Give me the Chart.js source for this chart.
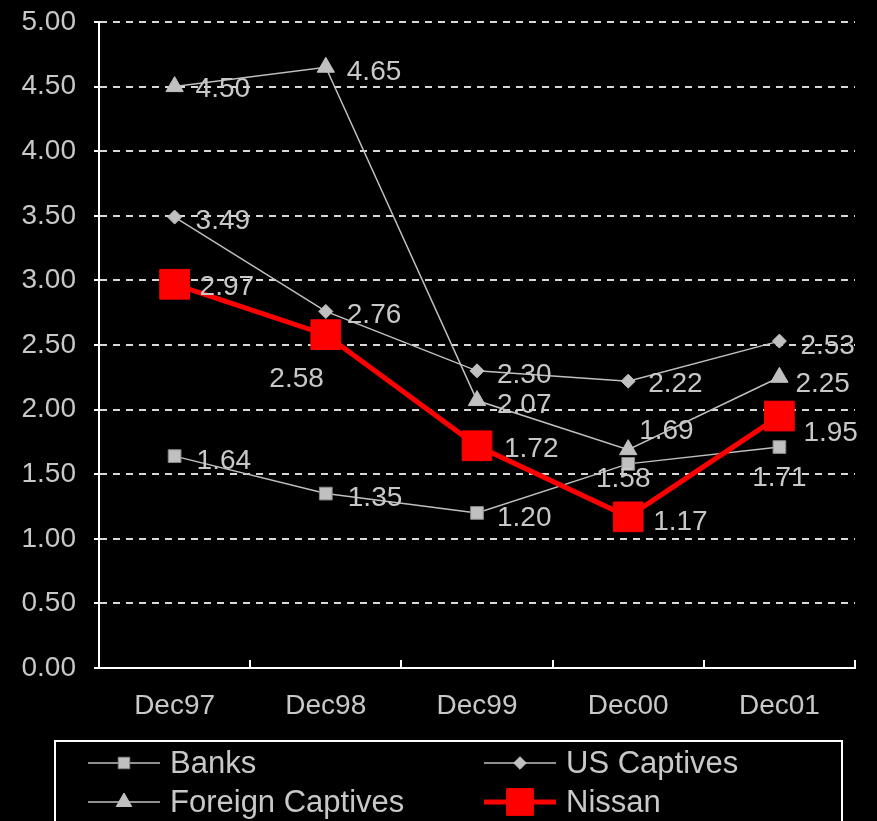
<!DOCTYPE html>
<html>
<head>
<meta charset="utf-8">
<script src="https://cdn.jsdelivr.net/npm/chart.js@4/dist/chart.umd.min.js"></script>
<style>
  html, body { margin: 0; padding: 0; background: #000; }
  #wrap { width: 877px; height: 821px; position: relative; }
</style>
</head>
<body>
<div id="wrap"><canvas id="rateChart"></canvas></div>
<script>
// values
const categories = ["Dec97", "Dec98", "Dec99", "Dec00", "Dec01"];
const banks = [1.64, 1.35, 1.20, 1.58, 1.71];
const usCaptives = [3.49, 2.76, 2.30, 2.22, 2.53];
const foreignCaptives = [4.50, 4.65, 2.07, 1.69, 2.25];
const nissan = [2.97, 2.58, 1.72, 1.17, 1.95];

const grey = "#c0c0c0";
const textGrey = "#c8c8c8";
const font = "Liberation Sans, Arial, sans-serif";

// where each value label sits relative to its point: [dx, dy, align]
const labelSpots = [
  [[22, 5, "left"], [22, 5, "left"], [20, 5, "left"], [-5, 15, "center"], [0, 31, "center"]],
  [[21, 4, "left"], [21, 4, "left"], [20, 4, "left"], [20, 3, "left"], [21, 5, "left"]],
  [[21, 3, "left"], [21, 5, "left"], [20, 5, "left"], [11, -18, "left"], [16, 7, "left"]],
  [[25, 3, "left"], [-2, 45, "right"], [27, 4, "left"], [25, 5, "left"], [24, 17, "left"]]
];

const valueLabels = {
  id: "valueLabels",
  afterDatasetsDraw(chart) {
    const ctx = chart.ctx;
    ctx.save();
    ctx.font = "28px " + font;
    ctx.fillStyle = textGrey;
    ctx.textBaseline = "middle";
    chart.data.datasets.forEach((ds, i) => {
      const meta = chart.getDatasetMeta(i);
      meta.data.forEach((pt, j) => {
        const spot = labelSpots[i][j];
        ctx.textAlign = spot[2];
        ctx.fillText(ds.data[j].toFixed(2), pt.x + spot[0], pt.y + spot[1]);
      });
    });
    ctx.restore();
  }
};

// small tick marks pointing up into the plot between the categories
const innerTicks = {
  id: "innerTicks",
  afterDraw(chart) {
    const x = chart.scales.x;
    const ctx = chart.ctx;
    const step = (x.right - x.left) / categories.length;
    ctx.save();
    ctx.strokeStyle = "#ffffff";
    ctx.lineWidth = 2;
    ctx.beginPath();
    for (let k = 1; k <= categories.length; k++) {
      const xx = Math.round(x.left + k * step);
      ctx.moveTo(xx, x.top - 8);
      ctx.lineTo(xx, x.top);
    }
    ctx.stroke();
    ctx.restore();
  }
};

// boxed two column legend at the bottom
const boxLegend = {
  id: "boxLegend",
  afterDraw(chart) {
    const ctx = chart.ctx;
    const slots = [[88, 763], [484, 763], [88, 802], [484, 802]];
    ctx.save();
    ctx.strokeStyle = "#ffffff";
    ctx.lineWidth = 2;
    ctx.strokeRect(55, 741, 787, 100);
    chart.data.datasets.forEach((ds, i) => {
      const [lx, ly] = slots[i];
      ctx.strokeStyle = ds.borderColor;
      ctx.lineWidth = ds.borderWidth;
      ctx.beginPath();
      ctx.moveTo(lx, ly);
      ctx.lineTo(lx + 72, ly);
      ctx.stroke();
      ctx.fillStyle = ds.pointBackgroundColor;
      ctx.strokeStyle = ds.pointBorderColor;
      ctx.lineWidth = 1;
      Chart.helpers.drawPoint(ctx, {
        pointStyle: ds.pointStyle,
        radius: ds.pointRadius * 0.9,
        rotation: 0,
        borderWidth: 1
      }, lx + 36, ly);
      ctx.fillStyle = textGrey;
      ctx.font = "31px " + font;
      ctx.textAlign = "left";
      ctx.textBaseline = "middle";
      ctx.fillText(ds.label, lx + 82, ly + 1);
    });
    ctx.restore();
  }
};

const ctx = document.getElementById("rateChart");

new Chart(ctx, {
  type: "line",
  plugins: [valueLabels, innerTicks, boxLegend],
  data: {
    labels: categories,
    datasets: [{
      label: "Banks",
      data: banks,
      borderColor: grey,
      borderWidth: 1.5,
      pointStyle: "rect",
      pointRadius: 9,
      pointBackgroundColor: grey,
      pointBorderColor: "#8a8a8a",
      pointBorderWidth: 1,
      order: 1
    }, {
      label: "US Captives",
      data: usCaptives,
      borderColor: grey,
      borderWidth: 1.5,
      pointStyle: "rectRot",
      pointRadius: 7,
      pointBackgroundColor: grey,
      pointBorderColor: grey,
      pointBorderWidth: 1,
      order: 1
    }, {
      label: "Foreign Captives",
      data: foreignCaptives,
      borderColor: grey,
      borderWidth: 1.5,
      pointStyle: "triangle",
      pointRadius: 10,
      pointBackgroundColor: grey,
      pointBorderColor: grey,
      pointBorderWidth: 1,
      order: 1
    }, {
      label: "Nissan",
      data: nissan,
      borderColor: "#ff0000",
      borderWidth: 5,
      pointStyle: "rect",
      pointRadius: 21,
      pointBackgroundColor: "#ff0000",
      pointBorderColor: "#ff0000",
      pointBorderWidth: 1,
      order: 0
    }]
  },
  options: {
    responsive: true,
    maintainAspectRatio: false,
    animation: false,
    layout: {
      padding: { top: 16, right: 18, bottom: 0, left: 0 }
    },
    plugins: {
      legend: { display: false },
      tooltip: { enabled: false }
    },
    scales: {
      x: {
        offset: true,
        afterFit: (scale) => {
          scale.height = 821 - 668;
          scale.paddingLeft = 0;
          scale.paddingRight = 0;
        },
        grid: { display: true, drawOnChartArea: false, drawTicks: false, offset: true },
        border: { display: true, color: "#ffffff", width: 2 },
        ticks: {
          color: textGrey,
          padding: 21,
          maxRotation: 0,
          font: { family: font, size: 28 }
        }
      },
      y: {
        min: 0,
        max: 5,
        afterFit: (scale) => {
          scale.width = 99;
          scale.paddingTop = 0;
          scale.paddingBottom = 0;
        },
        grid: {
          color: "#d8d8d8",
          lineWidth: 2,
          drawTicks: true,
          tickLength: 5,
          tickColor: "#ffffff",
          tickWidth: 2
        },
        border: { display: true, color: "#ffffff", width: 2, dash: [7, 6] },
        ticks: {
          stepSize: 0.5,
          color: textGrey,
          padding: 18,
          font: { family: font, size: 28 },
          callback: (v) => Number(v).toFixed(2)
        }
      }
    }
  }
});
</script>
</body>
</html>
